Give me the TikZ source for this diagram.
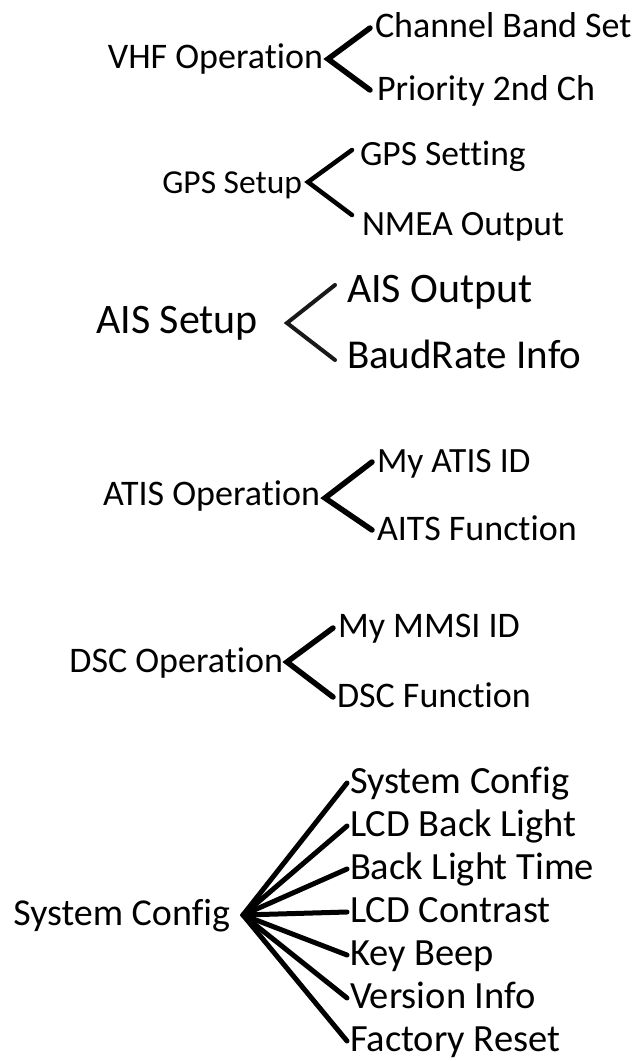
\documentclass[tikz,border=0pt]{standalone}
\usepackage{fontspec}
\setmainfont{Carlito}[Ligatures=NoCommon]
\begin{document}
\begin{tikzpicture}[x=1pt,y=-1pt,
  lbl/.style={inner sep=0pt, outer sep=0pt, text=black},
  fs/.style={font=\fontsize{#1}{#1}\selectfont},
  brk/.style={line width=5.5pt, line cap=round, line join=miter, draw=black}]
\useasboundingbox (0,0) rectangle (641,1061);
% VHF
\node[lbl, fs=36, anchor=base east] (vhf) at (323,68) {VHF Operation};
\node[lbl, fs=36, anchor=base west] (cbs) at (375,37) {Channel Band Set};
\node[lbl, fs=36, anchor=base west] (p2c) at (377,100) {Priority 2nd Ch};
\coordinate (vhfx) at ([shift={(5pt,9pt)}]vhf.base east);
\draw[brk] ([shift={(-5pt,9pt)}]cbs.base west) -- (vhfx) -- ([shift={(-7pt,10pt)}]p2c.base west);
% GPS
\node[lbl, fs=33.5, anchor=base east] (gps) at (302,193) {GPS Setup};
\node[lbl, fs=35.5, anchor=base west] (gset) at (360,165) {GPS Setting};
\node[lbl, fs=35.5, anchor=base west] (nmea) at (362,235) {NMEA Output};
\coordinate (gpsx) at ([shift={(6pt,11pt)}]gps.base east);
\draw[brk, line width=4.5pt] ([shift={(-8pt,15pt)}]gset.base west) -- (gpsx) -- ([shift={(-10pt,20pt)}]nmea.base west);
% AIS
\node[lbl, fs=42, anchor=base east] (ais) at (258,333) {AIS Setup};
\node[lbl, fs=42, anchor=base west] (aout) at (347,302) {AIS Output};
\node[lbl, fs=41, anchor=base west] (baud) at (347,368) {BaudRate Info};
\coordinate (aisx) at ([shift={(29pt,10pt)}]ais.base east);
\draw[brk, line width=4pt, draw=black!90] ([shift={(-12pt,17pt)}]aout.base west) -- (aisx) -- ([shift={(-12pt,8pt)}]baud.base west);
% ATIS
\node[lbl, fs=36, anchor=base east] (atis) at (320,505) {ATIS Operation};
\node[lbl, fs=35.5, anchor=base west] (myatis) at (377,472) {My ATIS ID};
\node[lbl, fs=36, anchor=base west] (aitsf) at (377,540) {AITS Function};
\coordinate (atisx) at ([shift={(5pt,7pt)}]atis.base east);
\draw[brk] ([shift={(-5pt,10pt)}]myatis.base west) -- (atisx) -- ([shift={(-5pt,10pt)}]aitsf.base west);
% DSC
\node[lbl, fs=36, anchor=base east] (dsc) at (283,672) {DSC Operation};
\node[lbl, fs=36, anchor=base west] (mmsi) at (338,637) {My MMSI ID};
\node[lbl, fs=36, anchor=base west] (dscf) at (337,707) {DSC Function};
\coordinate (dscx) at ([shift={(4pt,10pt)}]dsc.base east);
\draw[brk] ([shift={(-5pt,9pt)}]mmsi.base west) -- (dscx) -- ([shift={(-4pt,10pt)}]dscf.base west);
% System Config
\node[lbl, fs=38, anchor=base east] (sys) at (230,925) {System Config};
\coordinate (sysx) at ([shift={(13pt,10pt)}]sys.base east);
\foreach \n/\yy/\t in {s1/793/System Config, s2/836/LCD Back Light, s3/879/Back Light Time, s4/922/LCD Contrast, s5/965/Key Beep, s6/1008/Version Info, s7/1051/Factory Reset}{
  \node[lbl, fs=38.5, anchor=base west] (\n) at (350,\yy) {\t};
  \draw[brk, line width=5pt] (sysx) -- ([shift={(-3pt,10pt)}]\n.base west);
}
\end{tikzpicture}
\end{document}
